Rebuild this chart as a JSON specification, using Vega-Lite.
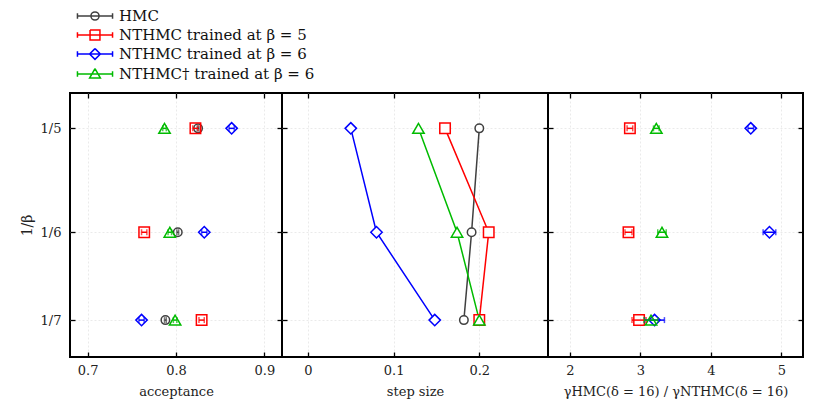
{
  "$schema": "https://vega.github.io/schema/vega-lite/v6.json",
  "background": "white",
  "padding": {"left": 19, "top": 6, "right": 27, "bottom": 10},
  "spacing": 0,
  "bounds": "flush",
  "datasets": {
    "d": [
      {"series": "HMC", "invbeta": 0.2, "acc": 0.825, "acc_lo": 0.824, "acc_hi": 0.826, "step": 0.2, "ratio": null, "ratio_lo": null, "ratio_hi": null},
      {"series": "HMC", "invbeta": 0.16666667, "acc": 0.802, "acc_lo": 0.801, "acc_hi": 0.803, "step": 0.191, "ratio": null, "ratio_lo": null, "ratio_hi": null},
      {"series": "HMC", "invbeta": 0.14285714, "acc": 0.788, "acc_lo": 0.787, "acc_hi": 0.789, "step": 0.182, "ratio": null, "ratio_lo": null, "ratio_hi": null},
      {"series": "NTHMC trained at β = 5", "invbeta": 0.2, "acc": 0.822, "acc_lo": 0.819, "acc_hi": 0.825, "step": 0.16, "ratio": 2.85, "ratio_lo": 2.81, "ratio_hi": 2.89},
      {"series": "NTHMC trained at β = 5", "invbeta": 0.16666667, "acc": 0.764, "acc_lo": 0.761, "acc_hi": 0.767, "step": 0.211, "ratio": 2.83, "ratio_lo": 2.78, "ratio_hi": 2.88},
      {"series": "NTHMC trained at β = 5", "invbeta": 0.14285714, "acc": 0.829, "acc_lo": 0.826, "acc_hi": 0.832, "step": 0.2, "ratio": 2.98, "ratio_lo": 2.88, "ratio_hi": 3.08},
      {"series": "NTHMC trained at β = 6", "invbeta": 0.2, "acc": 0.863, "acc_lo": 0.86, "acc_hi": 0.866, "step": 0.05, "ratio": 4.565, "ratio_lo": 4.525, "ratio_hi": 4.605},
      {"series": "NTHMC trained at β = 6", "invbeta": 0.16666667, "acc": 0.832, "acc_lo": 0.829, "acc_hi": 0.835, "step": 0.08, "ratio": 4.83, "ratio_lo": 4.74, "ratio_hi": 4.92},
      {"series": "NTHMC trained at β = 6", "invbeta": 0.14285714, "acc": 0.761, "acc_lo": 0.758, "acc_hi": 0.764, "step": 0.148, "ratio": 3.2, "ratio_lo": 3.06, "ratio_hi": 3.34},
      {"series": "NTHMC† trained at β = 6", "invbeta": 0.2, "acc": 0.787, "acc_lo": 0.785, "acc_hi": 0.789, "step": 0.129, "ratio": 3.225, "ratio_lo": 3.185, "ratio_hi": 3.265},
      {"series": "NTHMC† trained at β = 6", "invbeta": 0.16666667, "acc": 0.793, "acc_lo": 0.791, "acc_hi": 0.795, "step": 0.174, "ratio": 3.305, "ratio_lo": 3.245, "ratio_hi": 3.365},
      {"series": "NTHMC† trained at β = 6", "invbeta": 0.14285714, "acc": 0.799, "acc_lo": 0.797, "acc_hi": 0.801, "step": 0.2, "ratio": 3.15, "ratio_lo": 3.05, "ratio_hi": 3.25}
    ]
  },
  "data": {"name": "d"},
  "config": {
    "font": "DejaVu Serif",
    "view": {"stroke": "black", "strokeWidth": 2},
    "axis": {
      "labelFont": "DejaVu Serif", "titleFont": "DejaVu Serif",
      "labelFontSize": 13, "titleFontSize": 13, "titleFontWeight": "normal",
      "labelColor": "#222", "titleColor": "#222",
      "domain": false, "tickColor": "black", "tickWidth": 1.3, "tickSize": -5,
      "labelPadding": 12, "titlePadding": 8,
      "gridColor": "#e4e4e4", "gridDash": [2, 2], "gridWidth": 0.8,
      "labelFlush": false, "labelOverlap": false
    },
    "legend": {
      "orient": "none", "legendX": 15, "legendY": -87, "title": null,
      "symbolSize": 324, "symbolStrokeWidth": 1.5, "labelFont": "DejaVu Serif", "labelFontSize": 15, "labelColor": "#111",
      "labelOffset": 14, "rowPadding": 1, "labelLimit": 400
    },
    "point": {"opacity": 1}
  },
  "resolve": {"scale": {"x": "independent"}},
  "hconcat": [
    {
      "width": 212, "height": 264,
      "layer": [
        {
          "transform": [{"filter": "datum.invbeta > 1"}],
          "mark": {"type": "point", "filled": false, "strokeWidth": 1.5, "opacity": 1},
          "encoding": {
            "x": {"field": "acc", "type": "quantitative", "axis": null},
            "y": {"field": "invbeta", "type": "quantitative", "axis": null},
            "color": {"field": "series", "type": "nominal",
              "scale": {"domain": ["HMC", "NTHMC trained at β = 5", "NTHMC trained at β = 6", "NTHMC† trained at β = 6"], "range": ["#404040", "#ff0000", "#0000ff", "#00bb00"]},
              "legend": {"orient": "none", "legendX": 15, "legendY": -87, "title": null}},
            "shape": {"field": "series", "type": "nominal",
              "scale": {"domain": ["HMC", "NTHMC trained at β = 5", "NTHMC trained at β = 6", "NTHMC† trained at β = 6"],
                "range": [
                  "M-1.95,0H1.95M-1.95,-0.3V0.3M1.95,-0.3V0.3M0.45,0A0.45,0.45,0,1,1,-0.45,0A0.45,0.45,0,1,1,0.45,0A0.45,0.45,0,1,0,-0.45,0A0.45,0.45,0,1,0,0.45,0",
                  "M-1.95,0H1.95M-1.95,-0.3V0.3M1.95,-0.3V0.3M-0.55,-0.55H0.55V0.55H-0.55V-0.55V0.55H0.55V-0.55H-0.55",
                  "M-1.95,0H1.95M-1.95,-0.3V0.3M1.95,-0.3V0.3M0,-0.6L0.6,0L0,0.6L-0.6,0L0,-0.6L-0.6,0L0,0.6L0.6,0L0,-0.6",
                  "M-1.95,0H1.95M-1.95,-0.3V0.3M1.95,-0.3V0.3M0,-0.6L0.6,0.45L-0.6,0.45L0,-0.6L-0.6,0.45L0.6,0.45L0,-0.6"
                ]},
              "legend": {"orient": "none", "legendX": 15, "legendY": -87, "title": null}}
          }
        },
        {
          "mark": {"type": "point", "filled": false, "strokeWidth": 1.5, "opacity": 1,
            "shape": {"expr": "datum.series === 'HMC' ? 'circle' : datum.series === 'NTHMC trained at β = 5' ? 'square' : datum.series === 'NTHMC trained at β = 6' ? 'diamond' : 'triangle-up'"},
            "size": {"expr": "datum.series === 'HMC' ? 72 : datum.series === 'NTHMC trained at β = 5' ? 110 : 130"}},
          "encoding": {
            "x": {"field": "acc", "type": "quantitative", "scale": {"domain": [0.68, 0.92], "nice": false, "zero": false}, "axis": {"orient": "top", "labels": false, "title": null, "grid": false, "values": [0.7, 0.8, 0.9]}},
            "y": {"field": "invbeta", "type": "quantitative", "scale": {"type": "log", "domain": [0.1339, 0.2128], "nice": false}, "axis": {"orient": "right", "labels": false, "title": null, "grid": false, "values": [0.2, 0.16666667, 0.14285714]}},
            "color": {"field": "series", "type": "nominal"}
          }
        },
        {
          "mark": {"type": "errorbar", "ticks": {"size": 6, "thickness": 1.5}, "rule": {"strokeWidth": 1.5}},
          "encoding": {
            "x": {"field": "acc_lo", "type": "quantitative", "axis": {"orient": "bottom", "title": "acceptance", "values": [0.7, 0.8, 0.9], "format": "~g", "grid": true}},
            "x2": {"field": "acc_hi"},
            "y": {"field": "invbeta", "type": "quantitative", "axis": {"orient": "left", "title": "1/β", "titleFontSize": 14, "titlePadding": 6, "labelPadding": 14, "values": [0.2, 0.16666667, 0.14285714], "labelExpr": "datum.value > 0.18 ? '1/5' : datum.value > 0.155 ? '1/6' : '1/7'", "grid": true}},
            "color": {"field": "series", "type": "nominal"}
          }
        }
      ],
      "resolve": {"axis": {"x": "independent", "y": "independent"}}
    },
    {
      "width": 266, "height": 264,
      "layer": [
        {
          "mark": {"type": "line", "strokeWidth": 1.5},
          "encoding": {
            "x": {"field": "step", "type": "quantitative", "scale": {"domain": [-0.0303, 0.2802], "nice": false, "zero": false}, "axis": {"orient": "bottom", "title": "step size", "values": [0, 0.1, 0.2], "format": "~g", "grid": true}},
            "y": {"field": "invbeta", "type": "quantitative", "scale": {"type": "log", "domain": [0.1339, 0.2128], "nice": false}, "axis": {"orient": "left", "labels": false, "title": null, "values": [0.2, 0.16666667, 0.14285714], "grid": true}},
            "color": {"field": "series", "type": "nominal"},
            "order": {"field": "invbeta", "type": "quantitative"}
          }
        },
        {
          "mark": {"type": "point", "filled": false, "fill": "white", "fillOpacity": 1, "strokeWidth": 1.5, "opacity": 1,
            "shape": {"expr": "datum.series === 'HMC' ? 'circle' : datum.series === 'NTHMC trained at β = 5' ? 'square' : datum.series === 'NTHMC trained at β = 6' ? 'diamond' : 'triangle-up'"},
            "size": {"expr": "datum.series === 'HMC' ? 72 : datum.series === 'NTHMC trained at β = 5' ? 110 : 130"}},
          "encoding": {
            "x": {"field": "step", "type": "quantitative", "axis": {"orient": "top", "labels": false, "title": null, "grid": false, "values": [0, 0.1, 0.2]}},
            "y": {"field": "invbeta", "type": "quantitative", "axis": {"orient": "right", "labels": false, "title": null, "grid": false, "values": [0.2, 0.16666667, 0.14285714]}},
            "color": {"field": "series", "type": "nominal"}
          }
        }
      ],
      "resolve": {"axis": {"x": "independent", "y": "independent"}}
    },
    {
      "width": 255, "height": 264,
      "transform": [{"filter": "datum.ratio != null"}],
      "layer": [
        {
          "mark": {"type": "point", "filled": false, "strokeWidth": 1.5, "opacity": 1,
            "shape": {"expr": "datum.series === 'HMC' ? 'circle' : datum.series === 'NTHMC trained at β = 5' ? 'square' : datum.series === 'NTHMC trained at β = 6' ? 'diamond' : 'triangle-up'"},
            "size": {"expr": "datum.series === 'HMC' ? 72 : datum.series === 'NTHMC trained at β = 5' ? 110 : 130"}},
          "encoding": {
            "x": {"field": "ratio", "type": "quantitative", "scale": {"domain": [1.688, 5.306], "nice": false, "zero": false}, "axis": {"orient": "top", "labels": false, "title": null, "grid": false, "values": [2, 3, 4, 5]}},
            "y": {"field": "invbeta", "type": "quantitative", "scale": {"type": "log", "domain": [0.1339, 0.2128], "nice": false}, "axis": {"orient": "right", "labels": false, "title": null, "grid": false, "values": [0.2, 0.16666667, 0.14285714]}},
            "color": {"field": "series", "type": "nominal"}
          }
        },
        {
          "mark": {"type": "errorbar", "ticks": {"size": 6, "thickness": 1.5}, "rule": {"strokeWidth": 1.5}},
          "encoding": {
            "x": {"field": "ratio_lo", "type": "quantitative", "axis": {"orient": "bottom", "title": "γHMC(δ = 16) / γNTHMC(δ = 16)", "values": [2, 3, 4, 5], "format": "~g", "grid": true}},
            "x2": {"field": "ratio_hi"},
            "y": {"field": "invbeta", "type": "quantitative", "axis": {"orient": "left", "labels": false, "title": null, "values": [0.2, 0.16666667, 0.14285714], "grid": true}},
            "color": {"field": "series", "type": "nominal"}
          }
        }
      ],
      "resolve": {"axis": {"x": "independent", "y": "independent"}}
    }
  ]
}
